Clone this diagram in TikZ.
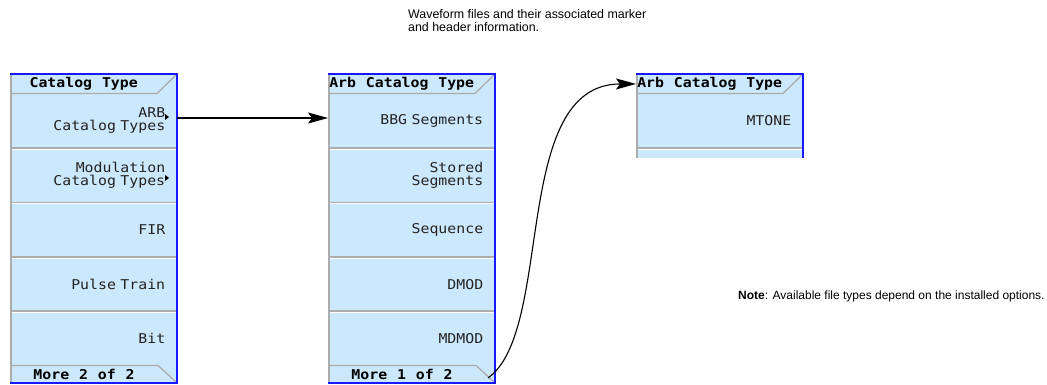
\documentclass[tikz,border=0pt]{standalone}
\usepackage{fontspec}
\setmainfont{Liberation Sans}
\newfontfamily\panelfont[FakeStretch=1.1,WordSpace=1.1]{DejaVu Sans Mono}
\usetikzlibrary{arrows.meta}
\definecolor{btnfill}{RGB}{204,232,252}
\definecolor{panelblue}{RGB}{25,25,255}
\definecolor{sepgray}{RGB}{172,172,172}
\definecolor{txtgray}{RGB}{35,35,35}
\newcommand\mypanelfull[1]{%
  \fill[btnfill] (#1,74) rectangle ({#1+167},383);
  \foreach \yy in {147.9,202.3,256.7,311.1}{
    \draw[sepgray, line width=1.6pt] (#1,\yy) -- ({#1+167},\yy);
    \draw[white, line width=0.8pt] (#1,\yy+1.4) -- ({#1+167},\yy+1.4);
  }
  \draw[sepgray, line width=1.3pt] (#1,93.5) -- ({#1+147},93.5) -- ({#1+166},75);
  \draw[sepgray, line width=1.3pt] (#1,365.5) -- ({#1+148},365.5) -- ({#1+166},382);
  \draw[sepgray, line width=1.5pt] ({#1+0.75},74) -- ({#1+0.75},383);
  \draw[panelblue, line width=2pt] (#1,74) -- ({#1+167},74) -- ({#1+167},383) -- (#1,383);
}
\begin{document}
\begin{tikzpicture}[x=1pt,y=-1pt,
  btn/.style={anchor=north west, minimum width=167pt, minimum height=54.4pt,
    inner xsep=12pt, inner ysep=0pt, text width=143pt, align=right,
    font=\panelfont\fontsize{13.5}{13}\selectfont, text=txtgray},
  ttl/.style={anchor=north west, minimum width=147pt, minimum height=19.5pt,
    inner sep=0pt, font=\panelfont\bfseries\fontsize{13.5}{13}\selectfont, text=black},
  more/.style={anchor=center, inner sep=0pt,
    font=\panelfont\bfseries\fontsize{13.5}{13}\selectfont, text=black},
  trimark/.style={fill=black},
  arr/.style={line width=1.1pt, -{Stealth[length=20pt,width=11pt,inset=4pt]}},
  plain/.style={font=\fontsize{12}{13.8}\selectfont, align=left, inner sep=0pt}
  ]
\useasboundingbox (0,0) rectangle (1047,385);

% panel 1
\mypanelfull{10}
\node[ttl] (p1t) at (10,74) {Catalog Type};
\node[btn] (p1b1) at (10,93.5) {ARB\\Catalog Types};
\node[btn] (p1b2) at (10,147.9) {Modulation\\Catalog Types};
\node[btn] (p1b3) at (10,202.3) {FIR};
\node[btn] (p1b4) at (10,256.7) {Pulse Train};
\node[btn] (p1b5) at (10,311.1) {Bit};
\node[more] (p1m) at (84,374.5) {More 2 of 2};
\fill[trimark] (165,114) -- (169,117) -- (165,120) -- cycle;
\fill[trimark] (165,175) -- (169,178) -- (165,181) -- cycle;

% panel 2
\mypanelfull{328}
\node[ttl] (p2t) at (328,74) {Arb Catalog Type};
\node[btn] (p2b1) at (328,93.5) {BBG Segments};
\node[btn] (p2b2) at (328,147.9) {Stored\\Segments};
\node[btn] (p2b3) at (328,202.3) {Sequence};
\node[btn] (p2b4) at (328,256.7) {DMOD};
\node[btn] (p2b5) at (328,311.1) {MDMOD};
\node[more] (p2m) at (402,374.5) {More 1 of 2};

% panel 3 (partial)
\fill[btnfill] (636,74) rectangle (803,158);
\draw[sepgray, line width=1.6pt] (636,147.9) -- (803,147.9);
\draw[white, line width=0.8pt] (636,149.3) -- (803,149.3);
\draw[sepgray, line width=1.3pt] (636,93.5) -- (783,93.5) -- (802,75);
\draw[sepgray, line width=1.5pt] (636.75,74) -- (636.75,158);
\draw[panelblue, line width=2pt] (636,74) -- (803,74) -- (803,158);
\node[ttl] (p3t) at (636,74) {Arb Catalog Type};
\node[btn] (p3b1) at (636,93.5) {MTONE};

% connectors
\coordinate (a1) at (177,118);
\draw[arr] (a1) -- (a1 -| p2b1.west);
\coordinate (c2) at (488,378);
\draw[arr] (c2) .. controls (555,330) and (510,84) .. (p3t.west);

% texts
\node[plain, anchor=north west, font=\fontsize{12.4}{13.8}\selectfont] (top) at (408,9) {Waveform files and their associated marker\\and header information.};
\node[plain, anchor=west] (note) at (738,296) {\textbf{Note}: Available file types depend on the installed options.};
\end{tikzpicture}
\end{document}
